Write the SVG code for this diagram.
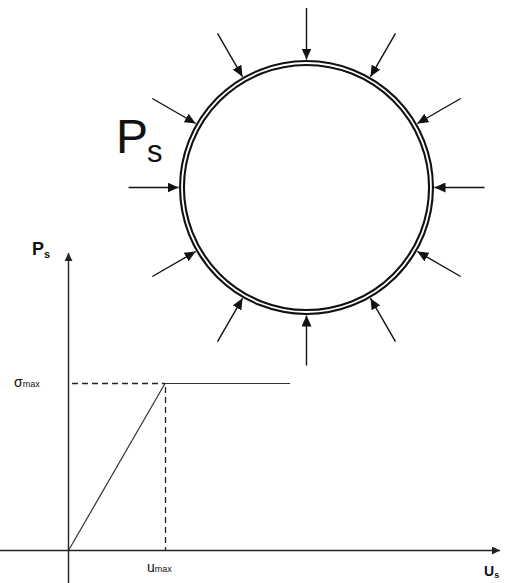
<svg xmlns="http://www.w3.org/2000/svg" width="507" height="583" viewBox="0 0 507 583">
<style>
.ar{stroke:#111;stroke-width:1.4;fill:none;marker-end:url(#ah)}
.ax{stroke:#222;stroke-width:1.4;fill:none}
.ln{stroke:#333;stroke-width:1.2;fill:none}
.dl{stroke:#222;stroke-width:1.3;fill:none;stroke-dasharray:6 4}
.t{font-family:"Liberation Sans",Arial,sans-serif;fill:#111}
</style>
<defs>
<marker id="ah" markerUnits="userSpaceOnUse" markerWidth="12" markerHeight="10" refX="11" refY="5" orient="auto">
<path d="M0,0 L11,5 L0,10 z" fill="#111"/>
</marker>
<marker id="sa" markerUnits="userSpaceOnUse" markerWidth="9" markerHeight="8" refX="8" refY="4" orient="auto">
<path d="M0,0 L8,4 L0,8 z" fill="#222"/>
</marker>
</defs>
<g id="ring">
<circle cx="306.5" cy="187.5" r="124.5" fill="#fff" stroke="#111" stroke-width="6"/>
<circle cx="306.5" cy="187.5" r="124.5" fill="none" stroke="#fff" stroke-width="1.8"/>
</g>
<g id="pressure-arrows">
<line class="ar" x1="484.5" y1="187.5" x2="434.5" y2="187.5"/>
<line class="ar" x1="460.65" y1="98.5" x2="417.35" y2="123.5"/>
<line class="ar" x1="395.5" y1="33.35" x2="370.5" y2="76.65"/>
<line class="ar" x1="306.5" y1="8" x2="306.5" y2="59.5"/>
<line class="ar" x1="217.5" y1="33.35" x2="242.5" y2="76.65"/>
<line class="ar" x1="152.35" y1="98.5" x2="195.65" y2="123.5"/>
<line class="ar" x1="128.5" y1="187.5" x2="178.5" y2="187.5"/>
<line class="ar" x1="152.35" y1="276.5" x2="195.65" y2="251.5"/>
<line class="ar" x1="217.5" y1="341.65" x2="242.5" y2="298.35"/>
<line class="ar" x1="306.5" y1="365.5" x2="306.5" y2="315.5"/>
<line class="ar" x1="395.5" y1="341.65" x2="370.5" y2="298.35"/>
<line class="ar" x1="460.65" y1="276.5" x2="417.35" y2="251.5"/>
</g>
<g id="ps-label">
<text class="t" x="116" y="153" font-size="48">P<tspan font-size="31" dx="-1" dy="9">s</tspan></text>
</g>
<g id="chart">
<line class="ax" x1="68.5" y1="583" x2="68.5" y2="253" marker-end="url(#sa)"/>
<line class="ax" x1="0" y1="550.5" x2="500" y2="550.5" marker-end="url(#sa)"/>
<line class="dl" x1="72" y1="383.5" x2="165" y2="383.5"/>
<line class="ln" x1="165" y1="383.5" x2="290" y2="383.5"/>
<line class="ln" x1="68.5" y1="550.5" x2="165" y2="383.5"/>
<line class="dl" x1="165.5" y1="387" x2="165.5" y2="550"/>
</g>
<g id="labels">
<text class="t" x="32" y="255" font-size="18" font-weight="bold">P<tspan font-size="11" dy="3">s</tspan></text>
<text class="t" x="14" y="387" font-size="14">σ<tspan font-size="9">max</tspan></text>
<text class="t" x="147" y="572" font-size="14">u<tspan font-size="9">max</tspan></text>
<text class="t" x="484" y="576" font-size="14" font-weight="bold">U<tspan font-size="9" dy="2">s</tspan></text>
</g>
</svg>
